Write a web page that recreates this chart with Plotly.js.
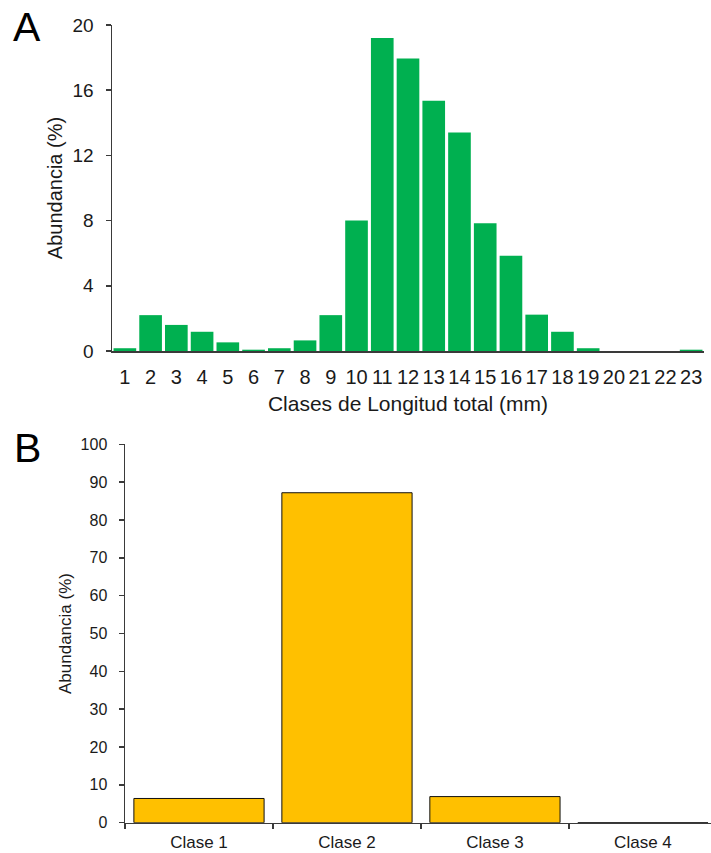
<!DOCTYPE html>
<html>
<head>
<meta charset="utf-8">
<script src="https://cdn.plot.ly/plotly-3.0.1.min.js"></script>
<style>html,body{margin:0;padding:0;background:#fff;}#chart{width:711px;height:853px;}</style>
</head>
<body>
<div id="chart"></div>
<script>
// Panel A: abundance by total length class (mm)
const classesA = ['1','2','3','4','5','6','7','8','9','10','11','12','13','14','15','16','17','18','19','20','21','22','23'];
const abundA = [0.17, 2.2, 1.6, 1.18, 0.53, 0.08, 0.17, 0.65, 2.2, 8.0, 19.2, 17.95, 15.35, 13.4, 7.83, 5.85, 2.23, 1.18, 0.17, 0, 0, 0, 0.08];
const yTicksA = [0, 4, 8, 12, 16, 20];

// Panel B: abundance by class
const classesB = ['Clase 1', 'Clase 2', 'Clase 3', 'Clase 4'];
const abundB = [6.4, 87.2, 6.9, 0];
const yTicksB = [0, 10, 20, 30, 40, 50, 60, 70, 80, 90, 100];

const W = 711, H = 853;
const FONT = 'Liberation Sans, Arial, sans-serif';
const TXT = '#1a1a1a';
const AX = '#3a3a3a';

const traces = [
  {type: 'bar', x: classesA, y: abundA, xaxis: 'x', yaxis: 'y',
   marker: {color: '#00B050', line: {width: 0}}, hoverinfo: 'x+y'},
  {type: 'bar', x: classesB, y: abundB, xaxis: 'x2', yaxis: 'y2',
   marker: {color: '#FFC000', line: {width: 1, color: '#111'}}, hoverinfo: 'x+y'}
];

const layout = {
  width: W, height: H,
  margin: {l: 0, r: 0, t: 0, b: 0},
  paper_bgcolor: '#fff', plot_bgcolor: '#fff',
  showlegend: false,
  bargap: 0.12,
  font: {family: FONT, color: TXT},
  xaxis: {
    domain: [112/W, 704/W], anchor: 'y', type: 'category',
    range: [-0.5, 22.5], fixedrange: true,
    showline: true, linecolor: AX, linewidth: 1.5,
    ticks: '', showgrid: false, zeroline: false,
    tickfont: {size: 20, color: TXT}, ticklabelstandoff: 7,
    title: {text: 'Clases de Longitud total (mm)', font: {size: 21, color: TXT}, standoff: 10}
  },
  yaxis: {
    domain: [1 - 351/H, 1 - 25/H], anchor: 'x',
    range: [0, 20], tickvals: yTicksA, fixedrange: true,
    showline: true, linecolor: AX, linewidth: 1.5,
    ticks: 'outside', ticklen: 5, tickwidth: 1.5, tickcolor: AX,
    showgrid: false, zeroline: false,
    tickfont: {size: 19, color: TXT}, ticklabelstandoff: 8,
    title: {text: 'Abundancia (%)', font: {size: 20, color: TXT}, standoff: 4}
  },
  xaxis2: {
    domain: [125/W, 1], anchor: 'y2', type: 'category',
    range: [-0.5, 3.46], fixedrange: true,
    showline: true, linecolor: AX, linewidth: 1.5,
    ticks: 'outside', tickson: 'boundaries', ticklen: 5, tickwidth: 1.5, tickcolor: AX,
    showgrid: false, zeroline: false,
    tickfont: {size: 17, color: TXT}, ticklabelstandoff: 3
  },
  yaxis2: {
    domain: [1 - 822.7/H, 1 - 444.3/H], anchor: 'x2',
    range: [0, 100], tickvals: yTicksB, fixedrange: true,
    showline: true, linecolor: AX, linewidth: 1.5,
    ticks: 'outside', ticklen: 5, tickwidth: 1.5, tickcolor: AX,
    showgrid: false, zeroline: false,
    tickfont: {size: 16, color: TXT}, ticklabelstandoff: 8,
    title: {text: 'Abundancia (%)', font: {size: 17, color: TXT}, standoff: 4}
  },
  annotations: [
    {text: 'A', xref: 'paper', yref: 'paper', x: 27/W, y: 1 - 27/H,
     xanchor: 'center', yanchor: 'middle', showarrow: false,
     font: {size: 41, color: '#000', family: FONT}},
    {text: 'B', xref: 'paper', yref: 'paper', x: 27/W, y: 1 - 448/H,
     xanchor: 'center', yanchor: 'middle', showarrow: false,
     font: {size: 41, color: '#000', family: FONT}}
  ]
};

Plotly.newPlot('chart', traces, layout, {displayModeBar: false, staticPlot: true});
</script>
</body>
</html>
